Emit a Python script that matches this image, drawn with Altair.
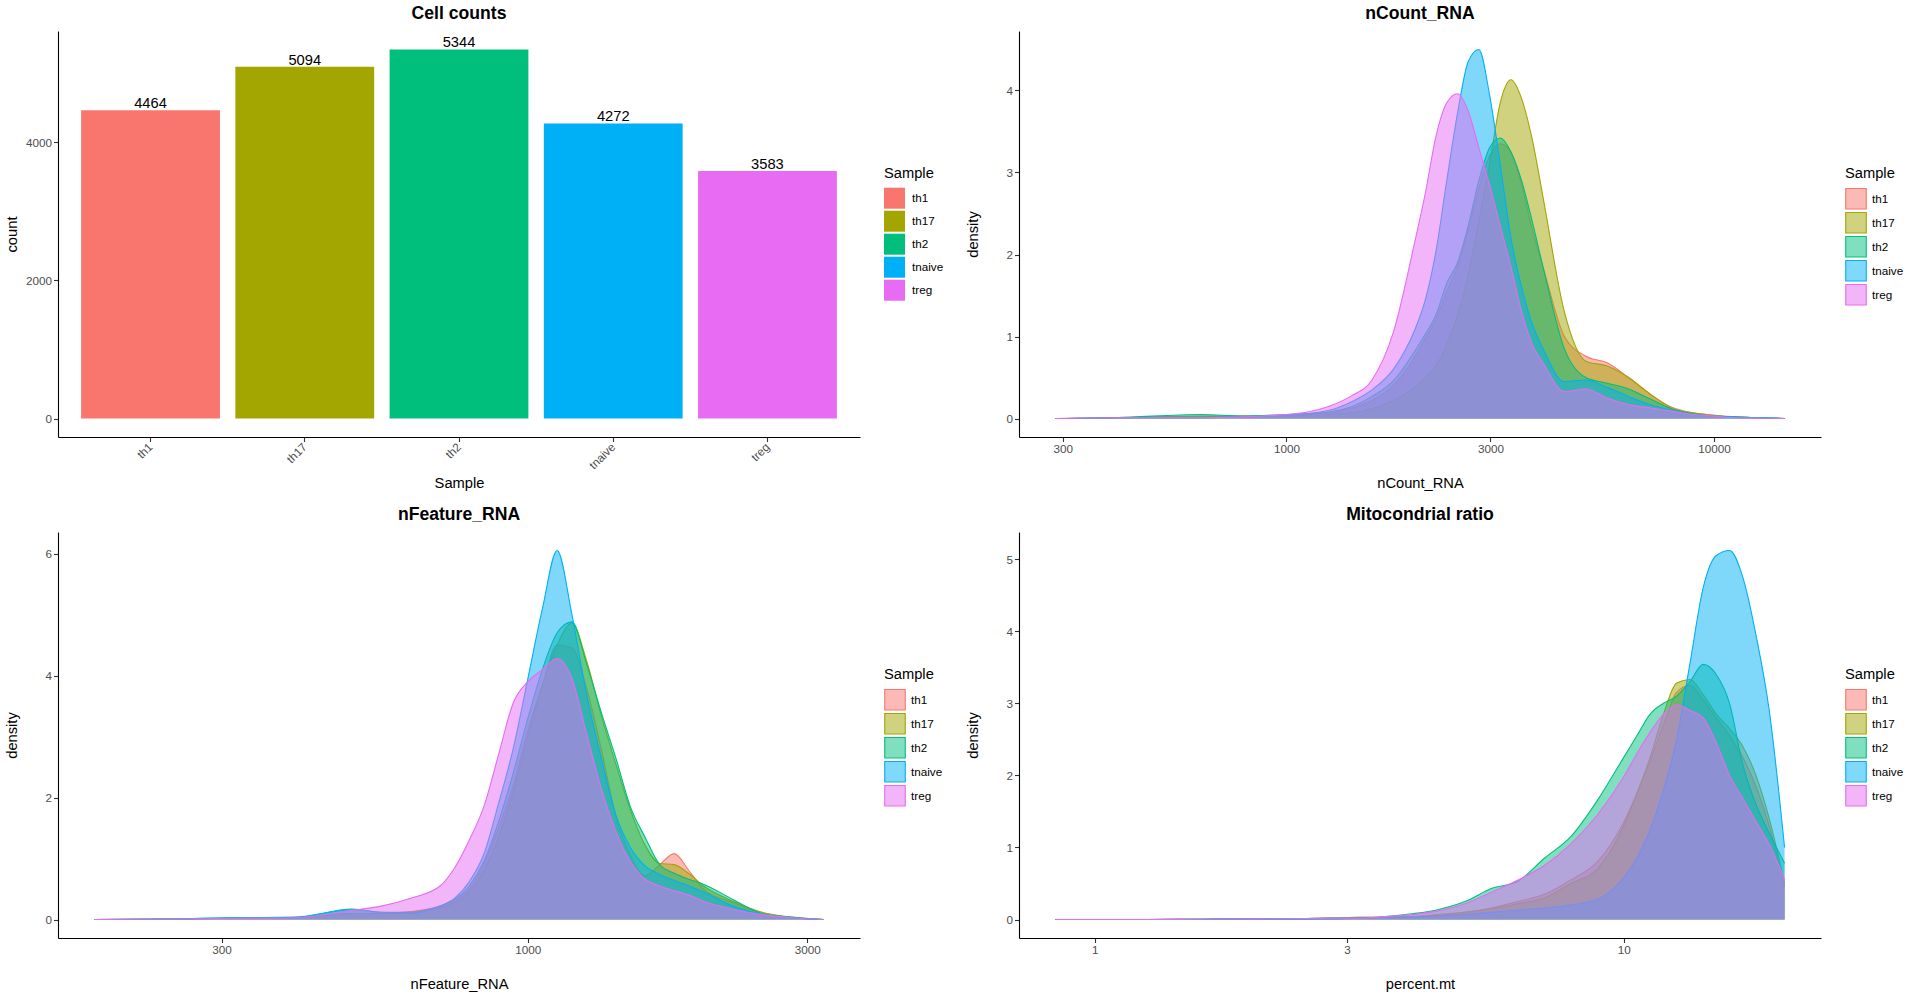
import altair as alt
import pandas as pd

FONT = "Liberation Sans"

samples = ["th1", "th17", "th2", "tnaive", "treg"]
palette = ["#F8766D", "#A3A500", "#00BF7D", "#00B0F6", "#E76BF3"]
palette_light = ["#FCBAB6", "#D1D27F", "#80DFBE", "#80D8FB", "#F3B5F9"]
cell_counts = [4464, 5094, 5344, 4272, 3583]

# ---- nCount_RNA densities (density per log10 unit) ----
ncount_grid = [288, 398, 631, 794, 1000, 1122, 1259, 1413, 1585, 1778, 1995, 2113,
               2239, 2371, 2512, 2661, 2818, 2985, 3162, 3350, 3548, 3758, 3981,
               4467, 5012, 5623, 6310, 7079, 7943, 8913, 10000, 11220, 12589, 14622]
ncount_density = {
    "th1":    [0, 0.01, 0.03, 0.03, 0.04, 0.05, 0.07, 0.12, 0.22, 0.4, 0.75, 0.98, 1.22, 1.55, 1.85, 2.3, 2.8,
               3.2, 3.35, 3.25, 2.85, 2.3, 1.85, 1.0, 0.76, 0.68, 0.5, 0.3, 0.14, 0.07, 0.04, 0.02, 0.01, 0],
    "th17":   [0, 0.01, 0.02, 0.03, 0.03, 0.04, 0.05, 0.07, 0.12, 0.22, 0.38, 0.5, 0.65, 0.9, 1.25, 1.75, 2.4,
               3.1, 3.85, 4.13, 3.9, 3.4, 2.7, 1.3, 0.7, 0.64, 0.5, 0.3, 0.13, 0.07, 0.04, 0.02, 0.01, 0],
    "th2":    [0, 0.01, 0.05, 0.03, 0.05, 0.06, 0.08, 0.14, 0.27, 0.46, 0.82, 1.03, 1.27, 1.65, 1.9, 2.35, 2.9,
               3.3, 3.42, 3.25, 2.9, 2.4, 1.85, 0.85, 0.5, 0.43, 0.36, 0.24, 0.12, 0.06, 0.03, 0.02, 0.01, 0],
    "tnaive": [0, 0.01, 0.01, 0.02, 0.04, 0.06, 0.1, 0.2, 0.35, 0.6, 1.08, 1.45, 2.05, 2.9, 3.72, 4.35, 4.5,
               3.95, 3.1, 2.2, 1.6, 1.15, 0.85, 0.45, 0.47, 0.38, 0.27, 0.17, 0.1, 0.05, 0.03, 0.02, 0.01, 0],
    "treg":   [0, 0.01, 0.01, 0.02, 0.05, 0.08, 0.15, 0.27, 0.47, 1.05, 2.15, 2.75, 3.45, 3.85, 3.96, 3.75, 3.3,
               2.85, 2.35, 1.85, 1.3, 0.9, 0.68, 0.33, 0.36, 0.25, 0.17, 0.13, 0.09, 0.05, 0.03, 0.01, 0.005, 0],
}

# ---- nFeature_RNA densities ----
nfeature_grid = [182, 251, 316, 398, 501, 562, 631, 708, 750, 794, 841, 891, 944, 1000, 1059,
                 1122, 1189, 1259, 1334, 1413, 1496, 1585, 1679, 1778, 1884, 1995, 2239, 2512, 2818, 3199]
nfeature_density = {
    "th1":    [0, 0.01, 0.02, 0.03, 0.1, 0.1, 0.13, 0.22, 0.32, 0.5, 0.9, 1.5, 2.2, 3.1, 3.85,
               4.5, 4.45, 3.8, 2.8, 1.7, 1.05, 0.72, 0.9, 1.08, 0.8, 0.5, 0.28, 0.1, 0.03, 0],
    "th17":   [0, 0.01, 0.02, 0.03, 0.1, 0.1, 0.12, 0.2, 0.28, 0.45, 0.8, 1.35, 2.1, 3.0, 3.85,
               4.5, 4.86, 4.25, 3.35, 2.55, 1.8, 1.22, 0.92, 0.9, 0.75, 0.55, 0.3, 0.12, 0.04, 0],
    "th2":    [0, 0.01, 0.03, 0.03, 0.17, 0.12, 0.12, 0.22, 0.33, 0.55, 0.95, 1.6, 2.4, 3.3, 4.1,
               4.7, 4.88, 4.2, 3.4, 2.65, 1.85, 1.35, 0.9, 0.76, 0.66, 0.58, 0.33, 0.1, 0.04, 0],
    "tnaive": [0, 0.01, 0.03, 0.04, 0.16, 0.12, 0.1, 0.22, 0.35, 0.62, 1.07, 1.9, 2.8, 3.95, 5.1,
               6.05, 5.0, 3.7, 2.65, 1.72, 1.18, 0.88, 0.74, 0.64, 0.55, 0.45, 0.22, 0.09, 0.03, 0],
    "treg":   [0, 0.01, 0.02, 0.03, 0.15, 0.22, 0.35, 0.55, 0.85, 1.3, 1.85, 2.7, 3.55, 3.9, 4.1,
               4.28, 3.95, 3.05, 2.15, 1.45, 0.95, 0.66, 0.55, 0.47, 0.4, 0.3, 0.17, 0.08, 0.03, 0],
}

# ---- percent.mt densities ----
mt_grid = [0.843, 1.259, 1.585, 1.995, 2.512, 2.818, 3.162, 3.548, 3.981, 4.467, 5.012, 5.623, 6.31,
           7.079, 7.943, 8.913, 10.0, 10.59, 11.22, 11.89, 12.59, 13.34, 14.13, 14.96, 15.85, 16.79,
           17.78, 18.84, 20.14]
mt_density = {
    "th1":    [0, 0, 0.005, 0.01, 0.015, 0.02, 0.03, 0.03, 0.04, 0.07, 0.1, 0.16, 0.25, 0.35, 0.55,
               0.8, 1.35, 1.75, 2.2, 2.7, 3.15, 3.25, 3.05, 2.8, 2.55, 2.25, 1.85, 1.3, 0.45],
    "th17":   [0, 0, 0.005, 0.01, 0.015, 0.02, 0.03, 0.03, 0.04, 0.06, 0.1, 0.15, 0.22, 0.3, 0.5,
               0.7, 1.3, 1.75, 2.25, 2.85, 3.28, 3.33, 3.12, 2.85, 2.65, 2.4, 2.0, 1.4, 0.5],
    "th2":    [0, 0, 0.005, 0.01, 0.01, 0.02, 0.02, 0.04, 0.08, 0.14, 0.25, 0.43, 0.53, 0.85, 1.15,
               1.65, 2.25, 2.55, 2.85, 3.0, 3.1, 3.3, 3.54, 3.4, 3.0, 2.15, 1.6, 1.2, 0.78],
    "tnaive": [0, 0, 0.005, 0.01, 0.01, 0.01, 0.02, 0.03, 0.04, 0.05, 0.07, 0.1, 0.13, 0.16, 0.2,
               0.28, 0.58, 0.85, 1.25, 1.8, 2.5, 3.55, 4.6, 5.05, 5.12, 4.75, 3.95, 2.9, 1.0],
    "treg":   [0, 0, 0.005, 0.01, 0.015, 0.02, 0.02, 0.04, 0.07, 0.12, 0.22, 0.38, 0.55, 0.75, 1.05,
               1.45, 1.98, 2.3, 2.6, 2.85, 2.98, 2.9, 2.8, 2.45, 2.0, 1.68, 1.36, 1.04, 0.56],
}

W, H = 802, 406


def legend(size=441, stroke=0.0, row_pad=2, label_off=7):
    return alt.Legend(title="Sample", orient="none", legendX=826, legendY=135, symbolType="square",
                      symbolSize=size, symbolStrokeWidth=stroke, labelOffset=label_off, titlePadding=7,
                      rowPadding=row_pad, padding=0)


def y_axis(title, values):
    return alt.Axis(title=title, values=values, format="d", titleX=-46, titleBaseline="middle")


def x_axis_q(title, values):
    return alt.Axis(title=title, values=values, format="d", titleY=46, titleBaseline="middle")


# ---------------- Cell counts bar chart ----------------
bar_df = pd.DataFrame({"Sample": samples, "count": cell_counts})
bar_x = alt.X("Sample:N", sort=samples,
              scale=alt.Scale(paddingInner=0.1, paddingOuter=0.15),
              axis=alt.Axis(title="Sample", labelAngle=315, labelAlign="right", labelPadding=3,
                            labelBaseline="middle", titleY=46, titleBaseline="middle"))
bar_y = alt.Y("count:Q", scale=alt.Scale(domain=[-267, 5611], nice=False, zero=False),
              axis=y_axis("count", [0, 2000, 4000]))
bars = alt.Chart(bar_df).mark_bar().encode(
    x=bar_x, y=bar_y,
    color=alt.Color("Sample:N", scale=alt.Scale(domain=samples, range=palette), legend=legend()),
)
bar_text = alt.Chart(bar_df).mark_text(baseline="alphabetic", dy=-2, fontSize=14.7, font=FONT,
                                       color="black").encode(x=bar_x, y=bar_y, text="count:Q")
p_counts = alt.layer(bars, bar_text).properties(width=W, height=H, title="Cell counts")

key_df = pd.DataFrame({"Sample": samples})


def density_panel(title, xtitle, grid, dens, xdomain, ydomain, xticks, yticks):
    rows = []
    for s in samples:
        for g, v in zip(grid, dens[s]):
            rows.append({"Sample": s, "value": g, "density": v})
    df = pd.DataFrame(rows)
    xenc = alt.X("value:Q", scale=alt.Scale(type="log", domain=xdomain, nice=False),
                 axis=x_axis_q(xtitle, xticks))
    yenc = alt.Y("density:Q", scale=alt.Scale(domain=ydomain, nice=False, zero=False),
                 axis=y_axis("density", yticks))
    layers = []
    for s in samples:
        layers.append(
            alt.Chart(df).transform_filter(alt.datum.Sample == s)
            .mark_area(interpolate="monotone", fillOpacity=0.5,
                       line=alt.OverlayMarkDef(strokeWidth=1.1, interpolate="monotone"))
            .encode(
                x=xenc, y=yenc,
                # data-derived (alphabetical) domain == samples order
                color=alt.Color("Sample:N", scale=alt.Scale(range=palette), legend=None),
            )
        )
    # legend key layer: zero-size squares, light fill with full-colour outline in the legend
    lg = legend(420, 1.1, row_pad=-3.5, label_off=5)
    key = alt.Chart(key_df).mark_square(size=0, opacity=1).encode(
        fill=alt.Fill("Sample:N", scale=alt.Scale(domain=samples, range=palette_light), legend=lg),
        stroke=alt.Stroke("Sample:N", scale=alt.Scale(domain=samples, range=palette), legend=lg),
    )
    layers.append(key)
    return alt.layer(*layers).properties(width=W, height=H, title=title)


p_ncount = density_panel("nCount_RNA", "nCount_RNA", ncount_grid, ncount_density,
                         [237, 17783], [-0.225, 4.725], [300, 1000, 3000, 10000], [0, 1, 2, 3, 4])
p_nfeature = density_panel("nFeature_RNA", "nFeature_RNA", nfeature_grid, nfeature_density,
                           [157.7, 3690], [-0.3025, 6.3525], [300, 1000, 3000], [0, 2, 4, 6])
p_mt = density_panel("Mitocondrial ratio", "percent.mt", mt_grid, mt_density,
                     [0.7194, 23.6], [-0.256, 5.376], [1, 3, 10], [0, 1, 2, 3, 4, 5])

chart = alt.ConcatChart(
    concat=[p_counts, p_ncount, p_nfeature, p_mt], columns=2,
    spacing={"row": 95, "column": 159}, bounds="flush",
).resolve_scale(
    color="independent", fill="independent", stroke="independent", x="independent", y="independent"
).resolve_legend(
    color="independent", fill="independent", stroke="independent"
).properties(
    padding={"left": 4, "top": 4, "right": 0, "bottom": 6}
).configure(font=FONT).configure_view(stroke=None).configure_axis(
    domainColor="black", domainWidth=1.1, tickColor="#333333", tickWidth=1.1, tickSize=4.5,
    labelColor="#4D4D4D", labelFontSize=11.7, labelFont=FONT, labelPadding=2,
    titleFont=FONT, titleFontSize=14.7, titleFontWeight="normal", titleColor="black", grid=False,
).configure_legend(
    titleFont=FONT, titleFontSize=14.7, titleFontWeight="normal", titleColor="black",
    labelFont=FONT, labelFontSize=11.7, labelColor="black",
).configure_title(
    font=FONT, fontSize=17.6, fontWeight="bold", color="black", anchor="middle", offset=8.5,
)

chart.save("out.html", embed_options={"renderer": "svg", "actions": False})
